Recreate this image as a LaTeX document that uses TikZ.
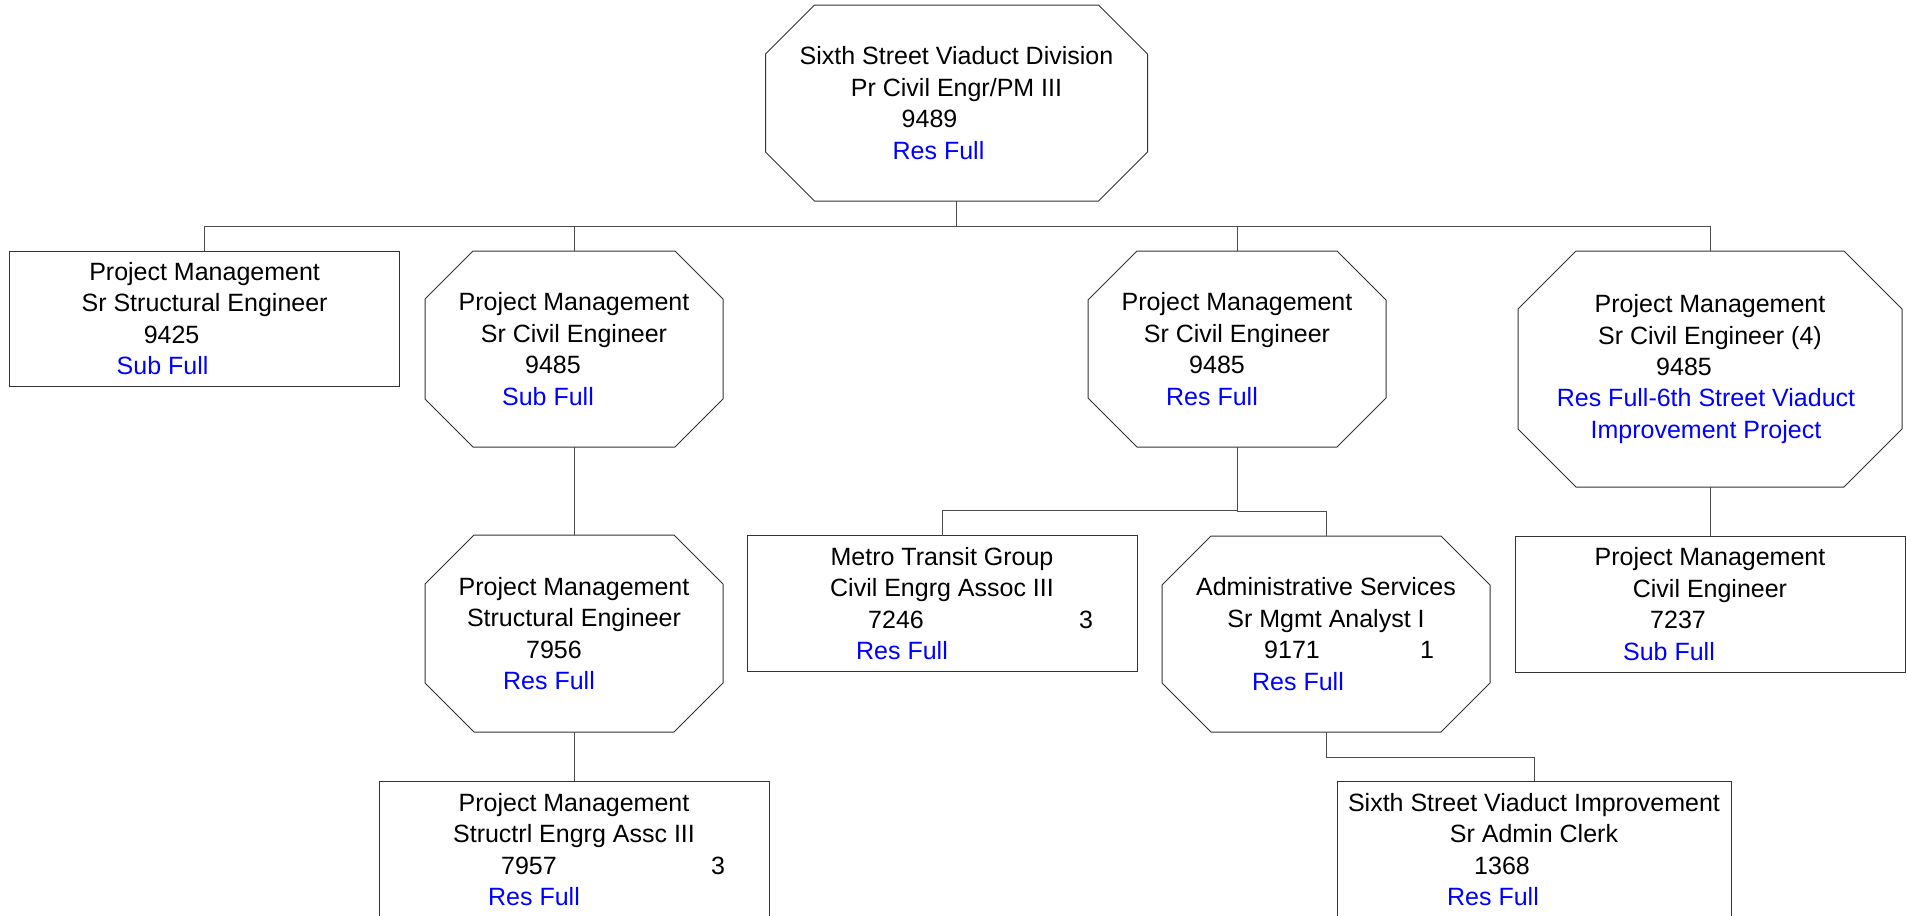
\documentclass[tikz,border=0pt]{standalone}
\usepackage{xcolor}
\usepackage{fontspec}
\setmainfont{Liberation Sans}
\usepackage{tikz}

\newcommand\tabat[2]{\makebox[0pt]{\hspace{#1pt}#2}}
\newcommand\stat[1]{\textcolor{blue}{#1}}
\newcommand\octframe[2]{%
  \draw[frame] ([xshift=#2]#1.north west) -- ([xshift=-#2]#1.north east)
    -- ([yshift=-#2]#1.north east) -- ([yshift=#2]#1.south east)
    -- ([xshift=-#2]#1.south east) -- ([xshift=#2]#1.south west)
    -- ([yshift=#2]#1.south west) -- ([yshift=-#2]#1.north west) -- cycle;}

\begin{document}
\begin{tikzpicture}[x=0.5pt,y=-0.5pt,
    every node/.style={font=\fontsize{12.5}{15.7}\selectfont,align=center,inner sep=0pt,outer sep=0pt},
    frame/.style={draw=black!80,line width=0.5pt},
    unitbox/.style={frame,minimum width=195pt,minimum height=68pt},
    unitoct/.style={minimum width=149pt,minimum height=98pt},
    link/.style={draw=black!70,line width=0.5pt}]
    \useasboundingbox (0,0) rectangle (1907,916);
    % top of the chart
    \node[unitoct,minimum width=191pt](div) at (956.5,103)
      {Sixth Street Viaduct Division\\ Pr Civil Engr/PM III\\ \tabat{-27}{9489}\\ \tabat{-18}{\stat{Res Full}}};
    % first level
    \node[unitbox,minimum height=67.5pt](strA) at (204.6,318.5)
      {Project Management\\ Sr Structural Engineer\\ \tabat{-33}{9425}\\ \tabat{-42}{\stat{Sub Full}}};
    \node[unitoct](civB) at (574,349)
      {Project Management\\ Sr Civil Engineer\\ \tabat{-21}{9485}\\ \tabat{-26}{\stat{Sub Full}}};
    \node[unitoct](civC) at (1237,349)
      {Project Management\\ Sr Civil Engineer\\ \tabat{-20}{9485}\\ \tabat{-25}{\stat{Res Full}}};
    \node[unitoct,minimum width=192pt,minimum height=118pt](civD) at (1710,369)
      {Project Management\\ Sr Civil Engineer (4)\\ \tabat{-26}{9485}\\
       \tabat{-4}{\stat{Res Full-6th Street Viaduct}}\\ \tabat{-4}{\stat{Improvement Project}}};
    % second level
    \node[unitoct,minimum height=98.5pt](strE) at (574,633.5)
      {Project Management\\ Structural Engineer\\ \tabat{-20}{7956}\\ \tabat{-25}{\stat{Res Full}}};
    \node[unitbox](metro) at (942,603.7)
      {Metro Transit Group\\ Civil Engrg Assoc III\\ \tabat{-46}{7246}\tabat{144}{3}\\ \tabat{-40}{\stat{Res Full}}};
    \node[unitoct,minimum width=164pt](admin) at (1326,634)
      {Administrative Services\\ Sr Mgmt Analyst I\\ \tabat{-34}{9171}\tabat{101}{1}\\ \tabat{-28}{\stat{Res Full}}};
    \node[unitbox](civJ) at (1710,604)
      {Project Management\\ Civil Engineer\\ \tabat{-32}{7237}\\ \tabat{-41}{\stat{Sub Full}}};
    % third level
    \node[unitbox,minimum height=68.5pt](strF) at (574,849.5)
      {Project Management\\ Structrl Engrg Assc III\\ \tabat{-45}{7957}\tabat{144}{3}\\ \tabat{-40}{\stat{Res Full}}};
    \node[unitbox,minimum width=197pt,minimum height=68.5pt](clerk) at (1534,849.5)
      {Sixth Street Viaduct Improvement\\ Sr Admin Clerk\\ \tabat{-32}{1368}\\ \tabat{-41}{\stat{Res Full}}};
    % octagon outlines
    \octframe{div}{24.5pt}
    \octframe{civB}{24pt}
    \octframe{civC}{24.5pt}
    \octframe{civD}{29pt}
    \octframe{strE}{24.5pt}
    \octframe{admin}{24.5pt}
    % connectors
    \foreach \kid in {strA,civB,civC,civD}
      \draw[link] (div.south) |- ([yshift=12.5pt]\kid.north) -- (\kid.north);
    \draw[link] (civB.south) -- (strE.north);
    \draw[link] (strE.south) -- (strF.north);
    \foreach \kid in {metro,admin}
      \draw[link] (civC.south) |- ([yshift=12.5pt]\kid.north) -- (\kid.north);
    \draw[link] (admin.south) |- ([yshift=12pt]clerk.north) -- (clerk.north);
    \draw[link] (civD.south) -- (civJ.north);
  \end{tikzpicture}
\end{document}
